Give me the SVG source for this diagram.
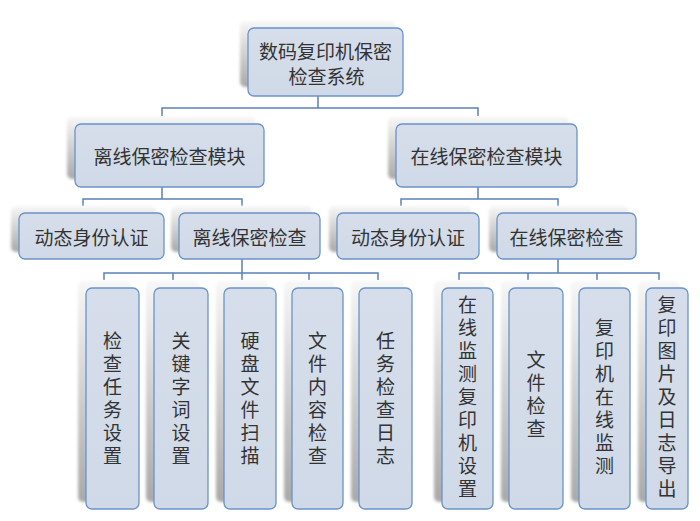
<svg xmlns="http://www.w3.org/2000/svg" width="700" height="521" viewBox="0 0 700 521">
<defs>
<linearGradient id="sh" x1="0" y1="0" x2="0" y2="1">
<stop offset="0" stop-color="#f7f7f7"/>
<stop offset="1" stop-color="#a9a9a9"/>
</linearGradient>
<linearGradient id="bf" x1="0" y1="0" x2="0" y2="1">
<stop offset="0" stop-color="#d6deeb"/>
<stop offset="1" stop-color="#d0d9e7"/>
</linearGradient>
<filter id="bl" x="-20%" y="-20%" width="140%" height="140%">
<feGaussianBlur stdDeviation="1.8"/>
</filter>
</defs>
<style>
.s{fill:url(#sh);filter:url(#bl)}
.b{fill:url(#bf);stroke:#6b93c9;stroke-width:1.3}
.t{font-family:"Noto Sans CJK SC",sans-serif;font-size:19px;fill:#333333;text-anchor:middle;dominant-baseline:central}
.v{font-family:"Noto Sans CJK SC",sans-serif;font-size:19px;fill:#333333;text-anchor:middle;writing-mode:vertical-rl;letter-spacing:4px}
.c{fill:none;stroke:#5b81b9;stroke-width:1.5}
</style>
<rect width="700" height="521" fill="#ffffff"/>
<g id="connectors">
<path class="c" d="M318 96V108M162 116V108H478V116"/>
<path class="c" d="M162 187V199M83 206V199H242V206"/>
<path class="c" d="M478 187V199M401 206V199H558V206"/>
<path class="c" d="M242 259V273M104 280V273H378V280M173 273V280M309 273V280M242 273V280"/>
<path class="c" d="M558 259V273M459 280V273H659V280M528 273V280M597 273V280"/>
</g>
<g id="root">
<rect class="s" x="240" y="21" width="155" height="66" rx="5"/>
<rect class="b" x="248" y="28" width="155" height="68" rx="6"/>
<text class="t" x="325.5" y="50.5">数码复印机保密</text>
<text class="t" x="326.5" y="75">检查系统</text>
</g>
<g id="offline-module">
<rect class="s" x="67" y="117" width="189" height="62" rx="5"/>
<rect class="b" x="75" y="124" width="189" height="63" rx="6"/>
<text class="t" x="169.5" y="155">离线保密检查模块</text>
</g>
<g id="online-module">
<rect class="s" x="388" y="117" width="181" height="62" rx="5"/>
<rect class="b" x="396" y="124" width="181" height="63" rx="6"/>
<text class="t" x="486.5" y="155">在线保密检查模块</text>
</g>
<g id="offline-auth">
<rect class="s" x="11" y="206" width="145" height="46" rx="5"/>
<rect class="b" x="19" y="213" width="145" height="46" rx="6"/>
<text class="t" x="91.5" y="236">动态身份认证</text>
</g>
<g id="offline-check">
<rect class="s" x="171" y="206" width="141" height="46" rx="5"/>
<rect class="b" x="179" y="213" width="141" height="46" rx="6"/>
<text class="t" x="249.5" y="236">离线保密检查</text>
</g>
<g id="online-auth">
<rect class="s" x="329" y="206" width="142" height="46" rx="5"/>
<rect class="b" x="337" y="213" width="142" height="46" rx="6"/>
<text class="t" x="408" y="236">动态身份认证</text>
</g>
<g id="online-check">
<rect class="s" x="489" y="206" width="139" height="46" rx="5"/>
<rect class="b" x="497" y="213" width="139" height="46" rx="6"/>
<text class="t" x="566.5" y="236">在线保密检查</text>
</g>
<g id="n1">
<rect class="s" x="78" y="281" width="53" height="221" rx="5"/>
<rect class="b" x="86" y="288" width="53" height="221" rx="6"/>
<text class="v" x="112.5" y="400.5">检查任务设置</text>
</g>
<g id="n2">
<rect class="s" x="146" y="281" width="54" height="221" rx="5"/>
<rect class="b" x="154" y="288" width="54" height="221" rx="6"/>
<text class="v" x="181" y="400.5">关键字词设置</text>
</g>
<g id="n3">
<rect class="s" x="216" y="281" width="52" height="221" rx="5"/>
<rect class="b" x="224" y="288" width="52" height="221" rx="6"/>
<text class="v" x="250" y="400.5">硬盘文件扫描</text>
</g>
<g id="n4">
<rect class="s" x="284" y="281" width="51" height="221" rx="5"/>
<rect class="b" x="292" y="288" width="51" height="221" rx="6"/>
<text class="v" x="317.5" y="400.5">文件内容检查</text>
</g>
<g id="n5">
<rect class="s" x="351" y="281" width="53" height="221" rx="5"/>
<rect class="b" x="359" y="288" width="53" height="221" rx="6"/>
<text class="v" x="385.5" y="400.5">任务检查日志</text>
</g>
<g id="n6">
<rect class="s" x="434" y="281" width="51" height="221" rx="5"/>
<rect class="b" x="442" y="288" width="51" height="221" rx="6"/>
<text class="v" x="467.5" y="399">在线监测复印机设置</text>
</g>
<g id="n7">
<rect class="s" x="501" y="281" width="54" height="221" rx="5"/>
<rect class="b" x="509" y="288" width="54" height="221" rx="6"/>
<text class="v" x="536" y="396.5">文件检查</text>
</g>
<g id="n8">
<rect class="s" x="571" y="281" width="51" height="221" rx="5"/>
<rect class="b" x="579" y="288" width="51" height="221" rx="6"/>
<text class="v" x="604.5" y="399">复印机在线监测</text>
</g>
<g id="n9">
<rect class="s" x="638" y="281" width="42" height="221" rx="5"/>
<rect class="b" x="646" y="288" width="42" height="221" rx="6"/>
<text class="v" x="667" y="399">复印图片及日志导出</text>
</g>
</svg>
